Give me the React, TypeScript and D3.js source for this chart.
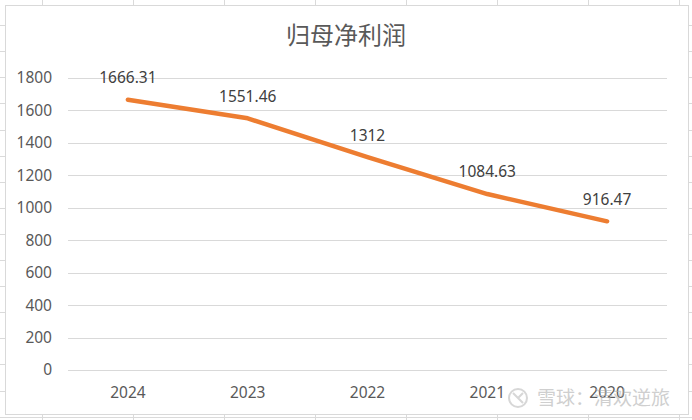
import React from "react";
import * as d3 from "d3";

const categories = ["2024", "2023", "2022", "2021", "2020"];
const values = [1666.31, 1551.46, 1312, 1084.63, 916.47];
const valueLabels = ["1666.31", "1551.46", "1312", "1084.63", "916.47"];
const yTicks = [0, 200, 400, 600, 800, 1000, 1200, 1400, 1600, 1800];
const title = "归母净利润";
const watermark = "雪球：清欢逆旅";

const W = 692;
const H = 420;

export default function App() {
  const plotLeft = 68;
  const plotRight = 667;
  const x = d3.scaleBand<string>().domain(categories).range([plotLeft, plotRight]).padding(0);
  const y = d3.scaleLinear().domain([0, 1800]).range([370, 78]);
  const line = d3
    .line<number>()
    .x((_, i) => (x(categories[i]) as number) + x.bandwidth() / 2)
    .y((d) => y(d));

  const colLines = d3.range(-49, W, 91);
  const rowLines = d3.range(-1, H, 26.1);
  const font = "'Noto Sans CJK SC', 'Noto Sans', sans-serif";
  const numFont = "'Noto Sans', 'Open Sans', sans-serif";

  return (
    <svg
      width={W}
      height={H}
      style={{ position: "fixed", left: 0, top: 0, background: "#fff" }}
      fontFamily={font}
    >
      {colLines.map((c, i) => (
        <line key={"c" + i} x1={c + 0.5} x2={c + 0.5} y1={0} y2={H} stroke="#dadada" strokeWidth={1} />
      ))}
      {rowLines.map((r, i) => (
        <line key={"r" + i} x1={0} x2={W} y1={Math.round(r) + 0.5} y2={Math.round(r) + 0.5} stroke="#dadada" strokeWidth={1} />
      ))}
      <rect x={5.5} y={5.5} width={683} height={409} fill="#fff" stroke="#d9d9d9" strokeWidth={1} />
      <text x={346} y={44} textAnchor="middle" fontSize={24} fill="#595959">
        {title}
      </text>
      {yTicks.map((t) => (
        <g key={t}>
          <line x1={plotLeft} x2={plotRight} y1={Math.round(y(t)) + 0.5} y2={Math.round(y(t)) + 0.5} stroke="#d9d9d9" strokeWidth={1} />
          <text x={52} y={y(t)} dy="0.35em" textAnchor="end" fontSize={15.5} fill="#595959" fontFamily={numFont}>
            {t}
          </text>
        </g>
      ))}
      {categories.map((c) => (
        <text key={c} x={(x(c) as number) + x.bandwidth() / 2} y={393} dy="0.35em" textAnchor="middle" fontSize={15.5} fill="#595959" fontFamily={numFont}>
          {c}
        </text>
      ))}
      <path d={line(values) || ""} fill="none" stroke="#ED7D31" strokeWidth={4.5} strokeLinecap="round" strokeLinejoin="round" />
      {values.map((v, i) => (
        <text
          key={i}
          x={(x(categories[i]) as number) + x.bandwidth() / 2}
          y={y(v) - 22}
          dy="0.35em"
          textAnchor="middle"
          fontSize={15.5}
          fill="#404040"
          fontFamily={numFont}
        >
          {valueLabels[i]}
        </text>
      ))}
      <g opacity={0.6}>
        <circle cx={518} cy={398} r={9} fill="none" stroke="#bdbdbd" strokeWidth={2} />
        <path d="M513,393 L523,403 M523,393 L518,398" stroke="#bdbdbd" strokeWidth={2} fill="none" />
        <text x={537} y={405} fontSize={19} fill="#b0b0b0">
          {watermark}
        </text>
      </g>
    </svg>
  );
}
